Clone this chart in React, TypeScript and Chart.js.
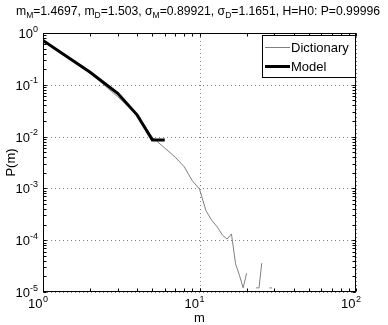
import React, { useEffect, useRef } from "react";
import { Chart, registerables } from "chart.js";
Chart.register(...registerables);

const mValues = [1, 2, 3, 4, 5, 6, 7, 8, 9, 10, 11, 12, 13, 14, 15, 16, 17, 18, 19, 20, 21, 22, 23, 24, 25, 26, 27, 28, 29];
const dictionaryP: (number | null)[] = [
  0.7, 0.17, 0.059, 0.026, 0.0097, 0.006, 0.004, 0.0026, 0.0014, 0.00097,
  0.00037, 0.00024, 0.00018, 0.000126, 0.000105, 0.000132, 0.000035, 0.000021, 0.000012, 0.000023,
  null, null, 0.000012, 0.000012, 0.000036, null, null, 0.000012, 0.000012,
];
const modelM = [1, 2, 3, 4, 5, 6];
const modelP = [0.715, 0.175, 0.0686, 0.026, 0.0086, 0.0086];

const xTickValues = [1, 10, 100];
const xTickExps = ["0", "1", "2"];
const yTickValues = [1, 0.1, 0.01, 0.001, 0.0001, 0.00001];
const yTickExps = ["0", "-1", "-2", "-3", "-4", "-5"];
const seriesNames = ["Dictionary", "Model"];
const titleParts: { t: string; sub?: boolean }[] = [
  { t: "m" }, { t: "M", sub: true }, { t: "=1.4697, m" }, { t: "D", sub: true },
  { t: "=1.503, σ" }, { t: "M", sub: true }, { t: "=0.89921, σ" }, { t: "D", sub: true },
  { t: "=1.1651, H=H0: P=0.99996" },
];
const xLabel = "m";
const yLabel = "P(m)";

const FONT = "'Liberation Sans', Arial, sans-serif";
const FS = 13;
const FS_SMALL = 9;
const FS_TITLE = 12.2;
const FS_TITLE_SUB = 8.5;

const matlabPlugin = {
  id: "matlab",
  beforeDatasetsDraw(chart: any) {
    const { ctx, chartArea: a, scales } = chart;
    const xs = scales.x, ys = scales.y;
    ctx.save();
    ctx.strokeStyle = "#808080";
    ctx.lineWidth = 1;
    ctx.setLineDash([1, 3]);
    xTickValues.forEach((v) => {
      const px = Math.round(xs.getPixelForValue(v)) + 0.5;
      ctx.beginPath(); ctx.moveTo(px, a.top); ctx.lineTo(px, a.bottom); ctx.stroke();
    });
    yTickValues.forEach((v) => {
      const py = Math.round(ys.getPixelForValue(v)) + 0.5;
      ctx.beginPath(); ctx.moveTo(a.left, py); ctx.lineTo(a.right, py); ctx.stroke();
    });
    ctx.restore();
  },
  afterDraw(chart: any) {
    const { ctx, chartArea: a, scales } = chart;
    const xs = scales.x, ys = scales.y;
    const L = Math.round(a.left) + 0.5, R = Math.round(a.right) - 0.5;
    const T = Math.round(a.top) + 0.5, B = Math.round(a.bottom) - 0.5;
    ctx.save();
    ctx.setLineDash([]);
    ctx.strokeStyle = "#000";
    ctx.lineWidth = 1;
    ctx.strokeRect(L, T, R - L, B - T);
    const tl = 3;
    for (let d = 1; d < 100; d *= 10) {
      for (let k = 1; k <= 10; k++) {
        const v = d * k;
        if (v > 100) break;
        const px = Math.round(xs.getPixelForValue(v)) + 0.5;
        ctx.beginPath();
        ctx.moveTo(px, B); ctx.lineTo(px, B - tl);
        ctx.moveTo(px, T); ctx.lineTo(px, T + tl);
        ctx.stroke();
      }
    }
    for (let d = 0.00001; d < 1; d *= 10) {
      for (let k = 1; k <= 10; k++) {
        const v = d * k;
        if (v > 1.0000001) break;
        const py = Math.round(ys.getPixelForValue(v)) + 0.5;
        ctx.beginPath();
        ctx.moveTo(L, py); ctx.lineTo(L + tl, py);
        ctx.moveTo(R, py); ctx.lineTo(R - tl, py);
        ctx.stroke();
      }
    }
    ctx.fillStyle = "#000";
    ctx.textBaseline = "alphabetic";
    xTickValues.forEach((v, i) => {
      const px = xs.getPixelForValue(v);
      ctx.font = `${FS}px ${FONT}`;
      ctx.textAlign = "right";
      ctx.fillText("10", px - 0.5, a.bottom + 16);
      ctx.font = `${FS_SMALL}px ${FONT}`;
      ctx.textAlign = "left";
      ctx.fillText(xTickExps[i], px, a.bottom + 10);
    });
    yTickValues.forEach((v, i) => {
      const py = ys.getPixelForValue(v);
      ctx.font = `${FS_SMALL}px ${FONT}`;
      const ew = ctx.measureText(yTickExps[i]).width;
      ctx.textAlign = "left";
      const ex = a.left - 5 - ew;
      ctx.fillText(yTickExps[i], ex, py - 1.5);
      ctx.font = `${FS}px ${FONT}`;
      ctx.textAlign = "right";
      ctx.fillText("10", ex, py + 5);
    });
    ctx.font = `${FS}px ${FONT}`;
    ctx.textAlign = "center";
    ctx.fillText(xLabel, (a.left + a.right) / 2, a.bottom + 30);
    ctx.save();
    ctx.translate(15, (a.top + a.bottom) / 2);
    ctx.rotate(-Math.PI / 2);
    ctx.fillText(yLabel, 0, 0);
    ctx.restore();
    let total = 0;
    titleParts.forEach((p) => {
      ctx.font = `${p.sub ? FS_TITLE_SUB : FS_TITLE}px ${FONT}`;
      total += ctx.measureText(p.t).width;
    });
    let tx = 198 - total / 2;
    ctx.textAlign = "left";
    titleParts.forEach((p) => {
      ctx.font = `${p.sub ? FS_TITLE_SUB : FS_TITLE}px ${FONT}`;
      ctx.fillText(p.t, tx, p.sub ? 18 : 15);
      tx += ctx.measureText(p.t).width;
    });
    const lx = 262.5, ly = 35.5, lw = 93, lh = 42;
    ctx.fillStyle = "#fff";
    ctx.fillRect(lx, ly, lw, lh);
    ctx.strokeStyle = "#000";
    ctx.lineWidth = 1;
    ctx.strokeRect(lx, ly, lw, lh);
    const rows = [
      { y: 47.5, color: "#808080", w: 1 },
      { y: 66.5, color: "#000", w: 3 },
    ];
    rows.forEach((r, i) => {
      ctx.strokeStyle = r.color;
      ctx.lineWidth = r.w;
      ctx.beginPath(); ctx.moveTo(265, r.y); ctx.lineTo(290, r.y); ctx.stroke();
      ctx.fillStyle = "#000";
      ctx.font = `${FS}px ${FONT}`;
      ctx.textAlign = "left";
      ctx.fillText(seriesNames[i], 291, r.y + 4.5);
    });
    ctx.restore();
  },
};

export default function App() {
  const ref = useRef<HTMLCanvasElement>(null);
  useEffect(() => {
    if (!ref.current) return;
    const chart = new Chart(ref.current, {
      type: "line",
      data: {
        datasets: [
          {
            label: seriesNames[0],
            data: mValues.map((m, i) => ({ x: m, y: dictionaryP[i] })) as any,
            borderColor: "#808080",
            borderWidth: 1,
            pointRadius: 0,
            spanGaps: false,
            tension: 0,
            order: 1,
          },
          {
            label: seriesNames[1],
            data: modelM.map((m, i) => ({ x: m, y: modelP[i] })) as any,
            borderColor: "#000",
            borderWidth: 3,
            pointRadius: 0,
            tension: 0,
            order: 0,
          },
        ],
      },
      options: {
        animation: false,
        responsive: false,
        events: [],
        layout: { padding: { left: 43, right: 32, top: 33, bottom: 33 } },
        plugins: { legend: { display: false }, tooltip: { enabled: false }, title: { display: false } },
        scales: {
          x: { type: "logarithmic", min: 1, max: 100, display: false },
          y: { type: "logarithmic", min: 0.00001, max: 1, display: false },
        },
      },
      plugins: [matlabPlugin],
    });
    return () => chart.destroy();
  }, []);
  return (
    <div style={{ position: "fixed", left: 0, top: 0, width: 388, height: 325, background: "#fff" }}>
      <canvas ref={ref} width={388} height={325} style={{ display: "block", width: 388, height: 325 }} />
    </div>
  );
}
